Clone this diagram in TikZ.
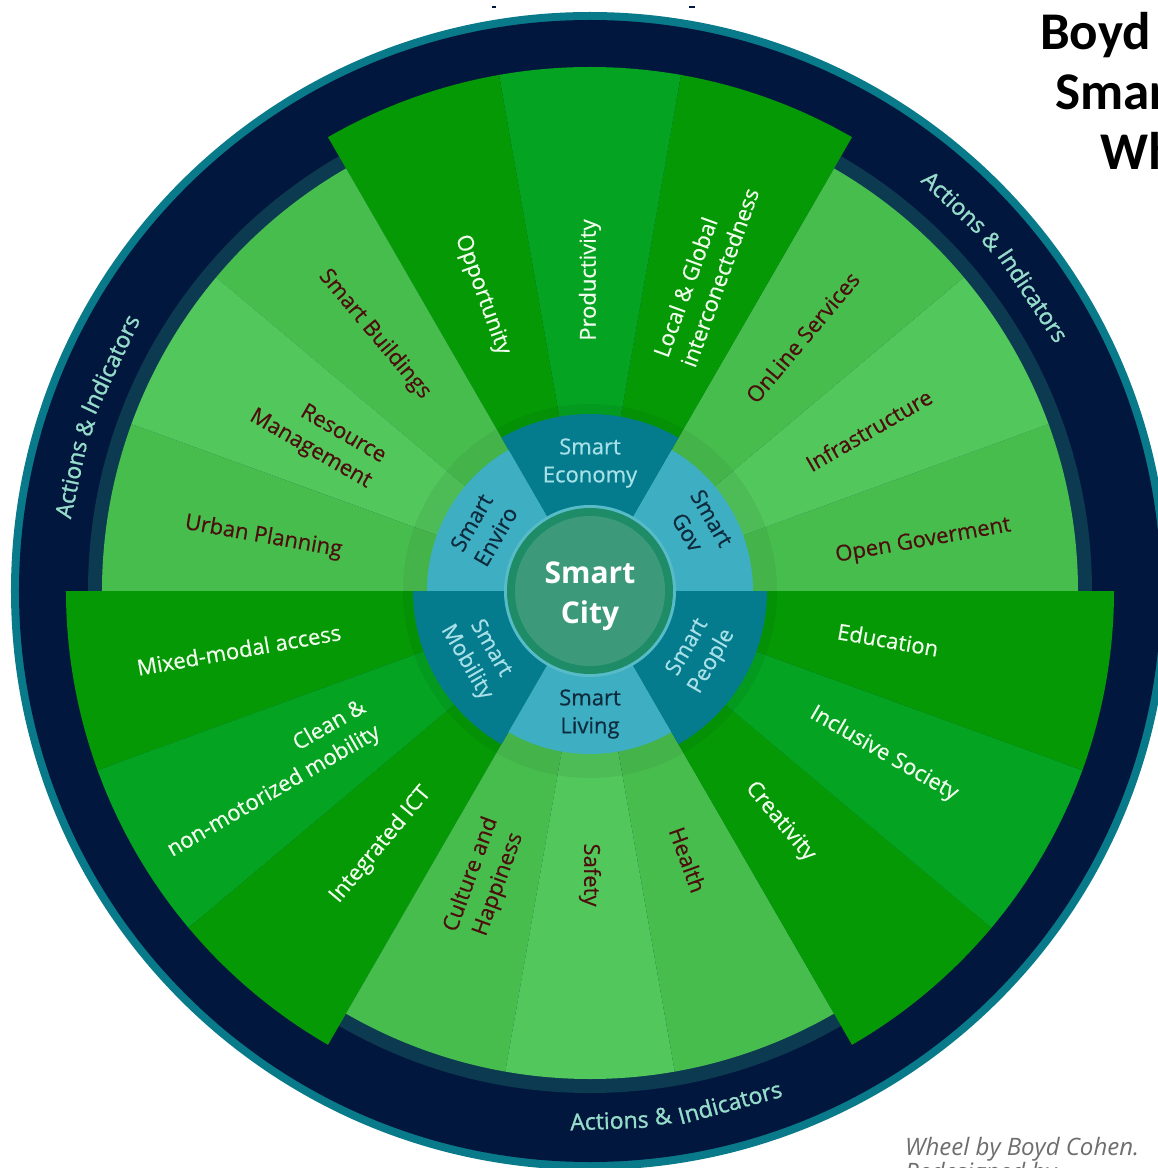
\documentclass[tikz,border=0pt]{standalone}
\usepackage{fontspec}
\setmainfont{Open Sans}
\newfontfamily\titlefont{Carlito}
\newfontfamily\labelfont[FakeBold=0.5]{Open Sans}
\newfontfamily\arcfont[FakeBold=1.2]{Open Sans}
\definecolor{rimteal}{HTML}{087A8A}
\definecolor{navy}{HTML}{02173E}
\definecolor{band}{HTML}{0C3A50}
\definecolor{lgA}{HTML}{47BD4E}
\definecolor{lgB}{HTML}{52C75B}
\definecolor{dgA}{HTML}{069906}
\definecolor{dgB}{HTML}{04A321}
\definecolor{tealL}{HTML}{3EAEC3}
\definecolor{tealD}{HTML}{047C8E}
\definecolor{cedge}{HTML}{58BCC8}
\definecolor{cdark}{HTML}{1E8C66}
\definecolor{cfill}{HTML}{3C9A7A}
\definecolor{labelwhite}{HTML}{F0FDEC}
\definecolor{labelbrown}{HTML}{4B0E0B}
\definecolor{ringtxtL}{HTML}{A8E0E8}
\definecolor{ringtxtD}{HTML}{0D2B3D}
\definecolor{arctxt}{HTML}{96DCCB}
\definecolor{footgray}{HTML}{6E6E6E}
\tikzset{
  lbl/.style={font=\labelfont\fontsize{22}{29}\selectfont, inner sep=0pt, align=center},
  lw/.style={lbl, text=labelwhite},
  lb/.style={lbl, text=labelbrown},
  ringlbl/.style={font=\labelfont\fontsize{22}{28}\selectfont, inner sep=0pt, align=center},
  ringlight/.style={ringlbl, text=ringtxtL},
  ringdark/.style={ringlbl, text=ringtxtD},
  arcword/.style={font=\arcfont\fontsize{23}{23}\selectfont, text=arctxt, inner sep=0pt},
  titletext/.style={font=\titlefont\bfseries\fontsize{53}{60}\selectfont, text=black, inner sep=0pt, anchor=base west},
  foottext/.style={font=\itshape\fontsize{24}{30}\selectfont, text=footgray, inner sep=0pt, anchor=base west}
}
\begin{document}
\begin{tikzpicture}
\useasboundingbox (-590pt,-577pt) rectangle (568pt,591pt);
\clip (-590pt,-577pt) rectangle (568pt,591pt);
\fill[white] (-590pt,-577pt) rectangle (568pt,591pt);

% outer rings
\fill[rimteal] (0,0) circle[radius=579pt];
\fill[navy] (0,0) circle[radius=571pt];
\fill[band] (0,0) circle[radius=502pt];

% 18 sectors
\foreach \sa/\sr/\sk in {0/488pt/lgA, 20/488pt/lgB, 40/488pt/lgA,
                         60/524pt/dgA, 80/524pt/dgB, 100/524pt/dgA,
                         120/488pt/lgA, 140/488pt/lgB, 160/488pt/lgA,
                         180/524pt/dgA, 200/524pt/dgB, 220/524pt/dgA,
                         240/488pt/lgA, 260/488pt/lgB, 280/488pt/lgA,
                         300/524pt/dgA, 320/524pt/dgB, 340/524pt/dgA}
  \fill[\sk] (0,0) -- (\sa:\sr) arc[start angle=\sa, delta angle=20, radius=\sr] -- cycle;

% soft shadow around middle ring
\fill[black, opacity=0.05] (0,0) circle[radius=187pt];

% middle ring
\foreach \sa/\sr/\sk in {0/163pt/tealL, 60/177pt/tealD, 120/163pt/tealL,
                         180/177pt/tealD, 240/163pt/tealL, 300/177pt/tealD}
  \fill[\sk] (0,0) -- (\sa:\sr) arc[start angle=\sa, delta angle=60, radius=\sr] -- cycle;

% centre
\fill[cedge] (0,0) circle[radius=86pt];
\fill[cdark] (0,0) circle[radius=83pt];
\fill[cfill] (0,0) circle[radius=75pt];
\node[font=\bfseries\fontsize{30}{40}\selectfont, text=white, align=center, inner sep=0pt]
  (city) at (0pt,-5pt) {Smart\\City};

% middle ring labels
\node[ringlight] (econ) at (90:128pt) {Smart\\Economy};
\node[ringdark, rotate=-60] (gov) at (31:128pt) {Smart\\Gov};
\node[ringlight, rotate=60] (people) at (-30:127pt) {Smart\\People};
\node[ringdark] (living) at (-90:123pt) {Smart\\Living};
\node[ringlight, rotate=-60] (mobility) at (210:129pt) {Smart\\Mobility};
\node[ringdark, rotate=60] (enviro) at (150:123pt) {Smart\\Enviro};

% sector labels
\node[lw, rotate=-70] (opp) at (110:315pt) {Opportunity};
\node[lw, rotate=90] (prod) at (90:311pt) {Productivity};
\node[lw, rotate=70, align=left] (local) at (70:339pt) {Local \& Global\\interconectedness};
\node[lb, rotate=50] (online) at (50:331pt) {OnLine Services};
\node[lb, rotate=30] (infra) at (30:322pt) {Infrastructure};
\node[lb, rotate=10] (opengov) at (8.5:337pt) {Open Goverment};
\node[lw, rotate=-10] (edu) at (-9.3:302pt) {Education};
\node[lw, rotate=-30] (incl) at (-29:336pt) {Inclusive Society};
\node[lw, rotate=-50] (creat) at (-50.5:299pt) {Creativity};
\node[lb, rotate=-70] (health) at (-70:286pt) {Health};
\node[lb, rotate=-90] (safety) at (-90:284pt) {Safety};
\node[lb, rotate=70] (culture) at (250:307pt) {Culture and\\Happiness};
\node[lw, rotate=50] (ict) at (230.5:329pt) {Integrated ICT};
\node[lw, rotate=30, align=right] (clean) at (210.2:374pt) {Clean \&\\non-motorized mobility};
\node[lw, rotate=10] (mixed) at (189.5:356pt) {Mixed-modal access};
\node[lb, rotate=-10] (urban) at (170.6:331pt) {Urban Planning};
\node[lb, rotate=-30, align=right] (resource) at (150.5:313pt) {Resource\\Management};
\node[lb, rotate=-50] (buildings) at (130:335pt) {Smart Buildings};

% Actions & Indicators, word by word along the navy band
\node[arcword, rotate=-43.15] (trA) at (46.85:533pt) {Actions};
\node[arcword, rotate=-48.95] (trB) at (41.05:533pt) {\&};
\node[arcword, rotate=-56.3] (trC) at (33.7:533pt) {Indicators};
\node[arcword, rotate=77.85] (lA) at (167.85:531pt) {Actions};
\node[arcword, rotate=72.05] (lB) at (162.05:531pt) {\&};
\node[arcword, rotate=64.7] (lC) at (154.7:531pt) {Indicators};
\node[arcword, rotate=2.1] (bA) at (-87.9:530pt) {Actions};
\node[arcword, rotate=7.9] (bB) at (-82.1:530pt) {\&};
\node[arcword, rotate=15.3] (bC) at (-74.7:530pt) {Indicators};

% title (cut off at the right edge)
\node[titletext] (t1) at (450pt,541pt) {Boyd Cohen's};
\node[titletext] (t2) at (465pt,481pt) {Smart City};
\node[titletext] (t3) at (510pt,421pt) {Wheel};

% footnote
\node[foottext] (f1) at (315pt,-564pt) {Wheel by Boyd Cohen.};
\node[foottext] (f2) at (315pt,-589pt) {Redesigned by};

% small marks at top
\draw[navy, line width=2pt] (-98pt,584pt) -- (-94pt,584pt);
\draw[navy, line width=2pt] (99pt,584pt) -- (105pt,584pt);
\end{tikzpicture}
\end{document}
